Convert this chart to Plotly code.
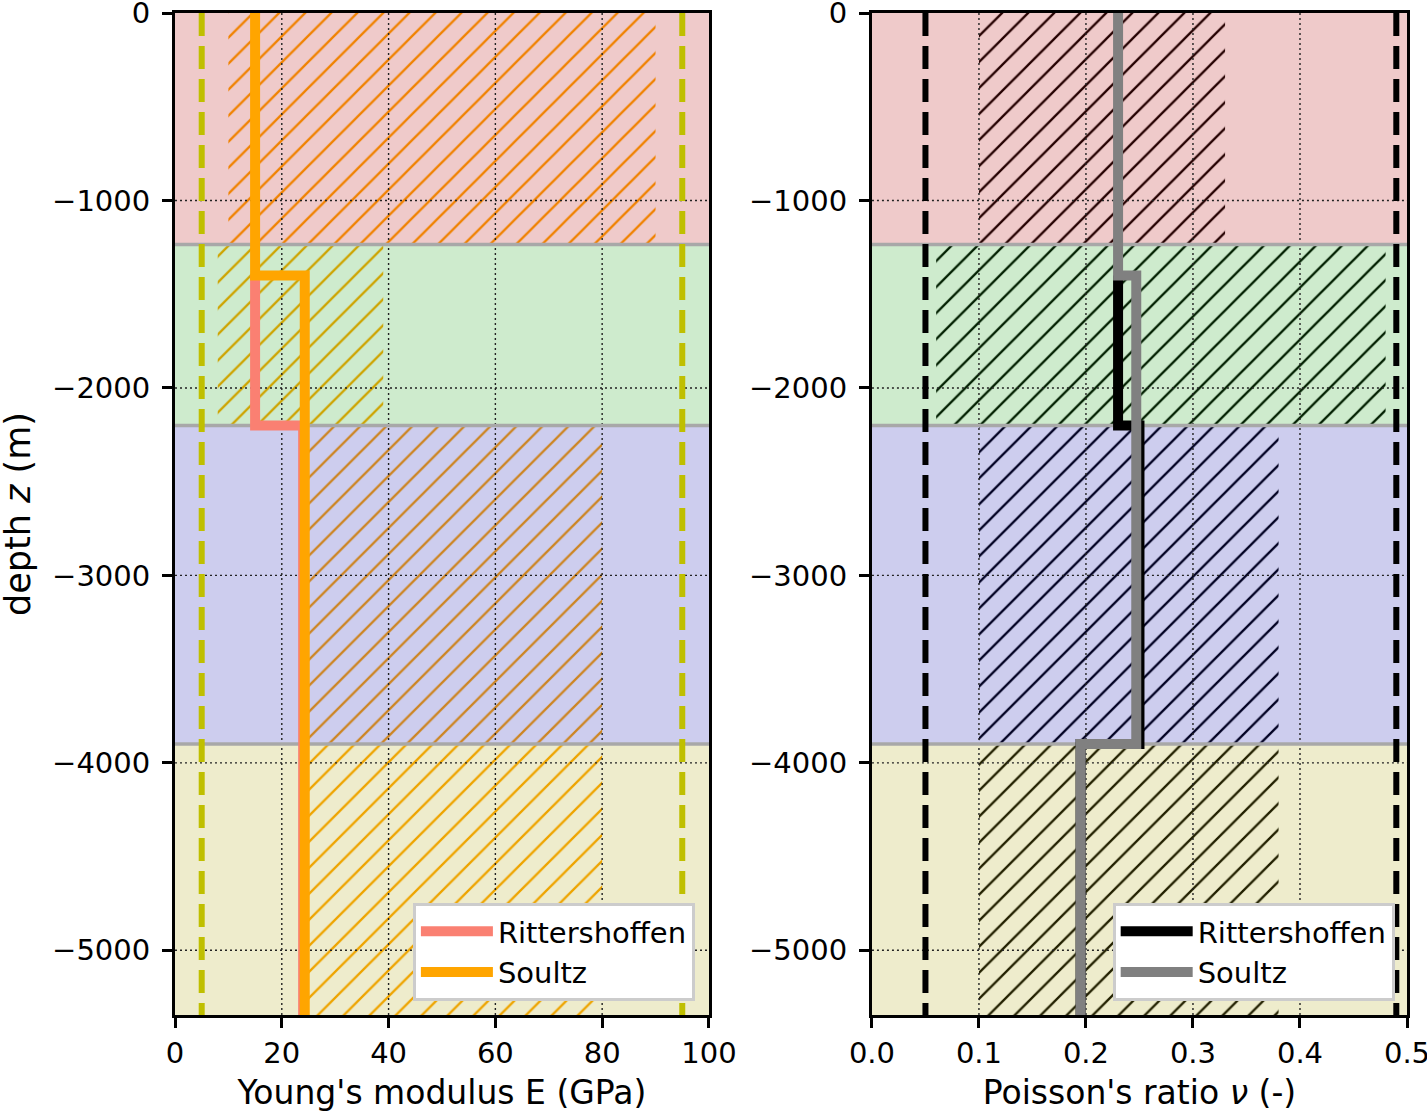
import plotly.graph_objects as go
from plotly.subplots import make_subplots

# ---------------- data ----------------
layer_top = [0, -1235, -2200, -3900]
layer_bottom = [-1235, -2200, -3900, -5345]
layer_bg = ["#efcaca", "#ceebcd", "#cdcdee", "#eeeccc"]
layer_hatch_E = ["#f08200", "#cea401", "#cd8522", "#eea400"]   # orange hatch tinted by layer colour
layer_hatch_nu = ["#240000", "#022001", "#010122", "#222000"]  # black hatch tinted by layer colour

E_min = [10, 8, 25, 25]
E_max = [90, 39, 80, 80]
nu_min = [0.10, 0.06, 0.10, 0.10]
nu_max = [0.33, 0.48, 0.38, 0.38]

E_limits = [5, 95]
nu_limits = [0.05, 0.49]

# step profiles (depth, value)
ritt_depth = [-1400, -2200, -2200, -3900, -3900, -5345]
ritt_E = [15, 15, 24.0, 24.0, 24.0, 24.0]
ritt_nu = [0.23, 0.23, 0.25, 0.25, 0.195, 0.195]

soultz_depth = [0, -1400, -1400, -3900, -3900, -5345]
soultz_E = [15, 15, 24.3, 24.3, 24.3, 24.3]
soultz_nu = [0.23, 0.23, 0.247, 0.247, 0.195, 0.195]

y_range = [-5345, 0]
E_range = [0, 100]
nu_range = [0, 0.5]

y_ticks = [0, -1000, -2000, -3000, -4000, -5000]
y_ticktext = ["0", "\u22121000", "\u22122000", "\u22123000", "\u22124000", "\u22125000"]
E_ticks = [0, 20, 40, 60, 80, 100]
nu_ticks = [0.0, 0.1, 0.2, 0.3, 0.4, 0.5]
nu_ticktext = ["0.0", "0.1", "0.2", "0.3", "0.4", "0.5"]

FONT = "DejaVu Sans"

fig = make_subplots(rows=1, cols=2, horizontal_spacing=0.1323)


def add_panel(col, xr, xmin, xmax, hatch_cols, limits, limit_color, xgrid,
              series, legend_name):
    # layer backgrounds
    for t, b, c in zip(layer_top, layer_bottom, layer_bg):
        fig.add_trace(go.Scatter(x=[xr[0], xr[1], xr[1], xr[0], xr[0]],
                                 y=[t, t, b, b, t], fill="toself", mode="none",
                                 fillcolor=c, hoverinfo="skip", showlegend=False),
                      row=1, col=col)
    # hatched ranges
    for t, b, lo, hi, hc in zip(layer_top, layer_bottom, xmin, xmax, hatch_cols):
        fig.add_trace(go.Scatter(x=[lo, hi, hi, lo, lo], y=[t, t, b, b, t],
                                 fill="toself", mode="none",
                                 fillcolor="rgba(0,0,0,0)",
                                 fillpattern=dict(shape="/", size=18.4, solidity=0.125,
                                                  fgcolor=hc, bgcolor="rgba(0,0,0,0)",
                                                  fillmode="replace"),
                                 hoverinfo="skip", showlegend=False),
                      row=1, col=col)
    # grid (dotted)
    for gx in xgrid:
        fig.add_trace(go.Scatter(x=[gx, gx], y=y_range, mode="lines",
                                 line=dict(color="#222222", width=1.4, dash="2px,3px"),
                                 hoverinfo="skip", showlegend=False), row=1, col=col)
    for gy in y_ticks[1:]:
        fig.add_trace(go.Scatter(x=xr, y=[gy, gy], mode="lines",
                                 line=dict(color="#222222", width=1.4, dash="2px,3px"),
                                 hoverinfo="skip", showlegend=False), row=1, col=col)
    # layer boundaries
    for b in layer_bottom[:-1]:
        fig.add_trace(go.Scatter(x=xr, y=[b, b], mode="lines",
                                 line=dict(color="#a8a8a8", width=3.5),
                                 hoverinfo="skip", showlegend=False), row=1, col=col)
    # limits (dashed)
    for lx in limits:
        fig.add_trace(go.Scatter(x=[lx, lx], y=[0, y_range[0]], mode="lines",
                                 line=dict(color=limit_color, width=6, dash="23px,10px"),
                                 hoverinfo="skip", showlegend=False), row=1, col=col)
    # profiles
    for name, xs, ys, color in series:
        fig.add_trace(go.Scatter(x=xs, y=ys, mode="lines", name=name,
                                 line=dict(color=color, width=10),
                                 legend=legend_name, showlegend=True,
                                 hoverinfo="skip"), row=1, col=col)


add_panel(1, E_range, E_min, E_max, layer_hatch_E, E_limits, "#bfbf00", E_ticks[1:-1],
          [("Rittershoffen", ritt_E, ritt_depth, "#fa8072"),
           ("Soultz", soultz_E, soultz_depth, "#ffa500")], "legend")
add_panel(2, nu_range, nu_min, nu_max, layer_hatch_nu, nu_limits, "#000000", nu_ticks[1:-1],
          [("Rittershoffen", ritt_nu, ritt_depth, "#000000"),
           ("Soultz", soultz_nu, soultz_depth, "#808080")], "legend2")

axis_common = dict(showgrid=False, zeroline=False, showline=True, mirror=True,
                   linecolor="black", linewidth=3, ticks="outside", ticklen=10,
                   tickwidth=2.5, tickcolor="black", automargin=False,
                   ticklabeloverflow="allow",
                   tickfont=dict(family=FONT, size=29, color="black"))

fig.update_xaxes(**axis_common)
fig.update_yaxes(**axis_common)

fig.update_xaxes(range=E_range, tickvals=E_ticks, ticktext=[str(v) for v in E_ticks],
                 title=dict(text="Young's modulus E (GPa)", standoff=16,
                            font=dict(family=FONT, size=33, color="black")),
                 domain=[0, 0.4334], row=1, col=1)
fig.update_xaxes(range=nu_range, tickvals=nu_ticks, ticktext=nu_ticktext,
                 title=dict(text="Poisson's ratio <i>\u03bd</i> (-)", standoff=16,
                            font=dict(family=FONT, size=33, color="black")),
                 domain=[0.5657, 1.0], row=1, col=2)
fig.update_yaxes(range=y_range, tickvals=y_ticks, ticktext=y_ticktext,
                 ticklabelstandoff=6, row=1, col=1)
fig.update_yaxes(range=y_range, tickvals=y_ticks, ticktext=y_ticktext,
                 ticklabelstandoff=6, row=1, col=2)

# y-axis title placed as rotated text left of the tick labels
fig.add_annotation(text="depth <i>z</i> (m)", textangle=-90, showarrow=False,
                   xref="paper", yref="paper", x=0, y=0.5,
                   xanchor="center", yanchor="middle", xshift=-157,
                   font=dict(family=FONT, size=35, color="black"))

legend_common = dict(font=dict(family=FONT, size=29, color="black"),
                     bgcolor="white", bordercolor="#cccccc", borderwidth=3,
                     xanchor="right", yanchor="bottom", itemwidth=72,
                     tracegroupgap=0)

fig.update_layout(
    width=1427, height=1112,
    margin=dict(l=175, r=20, t=13, b=97, autoexpand=False),
    plot_bgcolor="white", paper_bgcolor="white",
    font=dict(family=FONT, color="black"),
    legend=dict(x=0.422, y=0.014, **legend_common),
    legend2=dict(x=0.990, y=0.014, **legend_common),
)

fig.write_html("out.html", config={"displayModeBar": False},
               post_script="document.body.style.margin='0';")
